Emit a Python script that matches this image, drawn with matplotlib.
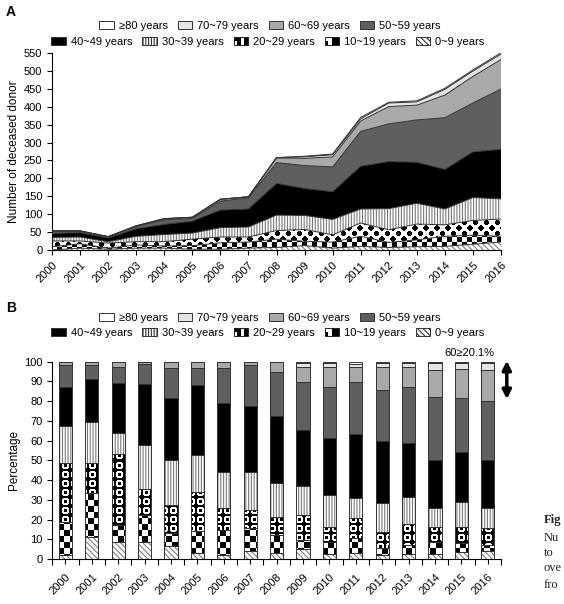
import numpy as np
import matplotlib
matplotlib.use('Agg')
import matplotlib.pyplot as plt
from matplotlib.patches import Patch, Rectangle
from matplotlib.legend_handler import HandlerBase
from matplotlib.path import Path

plt.rcParams['font.family'] = ['Liberation Sans', 'DejaVu Sans']
plt.rcParams['hatch.linewidth'] = 0.8

years = [str(y) for y in range(2000, 2017)]
groups = ['0~9 years', '10~19 years', '20~29 years', '30~39 years', '40~49 years',
          '50~59 years', '60~69 years', '70~79 years', '\u226580 years']

# number of deceased donors by age group (panel A)
cnt_0_9 = [1, 6, 3, 6, 6, 3, 3, 6, 8, 13, 6, 11, 8, 10, 11, 17, 23]
cnt_10_19 = [9, 12, 3, 9, 6, 10, 18, 17, 23, 12, 17, 28, 14, 19, 28, 25, 16]
cnt_20_29 = [16, 8, 14, 9, 12, 18, 16, 14, 24, 33, 20, 37, 35, 44, 32, 41, 48]
cnt_30_39 = [10, 11, 4, 15, 20, 17, 26, 28, 43, 39, 43, 39, 59, 58, 44, 64, 56]
cnt_40_49 = [11, 12, 10, 21, 28, 33, 49, 50, 88, 75, 77, 119, 131, 114, 110, 127, 138]
cnt_50_59 = [6, 4, 3, 7, 13, 8, 25, 31, 58, 64, 69, 97, 105, 118, 144, 136, 168]
cnt_60_69 = [1, 1, 1, 1, 3, 3, 5, 3, 13, 20, 28, 29, 48, 41, 63, 74, 82]
cnt_70_79 = [0, 0, 0, 0, 0, 0, 0, 0, 1, 4, 6, 6, 10, 9, 16, 15, 15]
cnt_80 = [0, 0, 0, 0, 0, 0, 0, 0, 0, 2, 2, 4, 2, 3, 3, 3, 4]

# percentage by age group (panel B)
pct_0_9 = [2.0, 11.3, 8.4, 8.8, 6.8, 3.2, 2.2, 4.2, 3.2, 5.1, 2.4, 2.9, 2.0, 2.5, 2.5, 3.4, 4.1]
pct_10_19 = [16.9, 22.0, 8.8, 13.5, 6.5, 10.8, 12.5, 11.3, 9.0, 4.5, 6.4, 7.6, 3.4, 4.6, 6.3, 4.9, 3.0]
pct_20_29 = [29.6, 15.2, 35.8, 13.0, 14.1, 20.0, 11.0, 9.3, 9.3, 12.7, 7.6, 10.1, 8.5, 10.6, 7.2, 8.1, 8.8]
pct_30_39 = [18.9, 21.1, 10.7, 22.5, 22.8, 18.6, 18.6, 19.1, 16.8, 14.9, 16.0, 10.5, 14.3, 13.9, 9.8, 12.7, 9.8]
pct_40_49 = [19.8, 21.6, 25.7, 30.7, 31.6, 35.5, 34.6, 33.6, 34.2, 28.2, 28.7, 32.2, 31.8, 27.4, 24.3, 25.3, 24.5]
pct_50_59 = [11.1, 7.1, 8.1, 10.5, 15.2, 8.9, 17.7, 20.8, 22.4, 24.5, 25.9, 26.2, 25.6, 28.3, 31.9, 27.0, 30.0]
pct_60_69 = [1.7, 1.7, 2.5, 1.0, 3.0, 3.0, 3.4, 1.7, 4.7, 7.6, 10.5, 7.8, 11.5, 9.8, 14.0, 15.0, 15.6]
pct_70_79 = [0, 0, 0, 0, 0, 0, 0, 0, 0.4, 1.7, 2.0, 1.7, 2.4, 2.1, 3.5, 3.0, 3.4]
pct_80 = [0, 0, 0, 0, 0, 0, 0, 0, 0, 0.8, 0.5, 1.0, 0.5, 0.8, 0.5, 0.6, 0.8]

counts = [cnt_0_9, cnt_10_19, cnt_20_29, cnt_30_39, cnt_40_49, cnt_50_59, cnt_60_69, cnt_70_79, cnt_80]
pcts = [pct_0_9, pct_10_19, pct_20_29, pct_30_39, pct_40_49, pct_50_59, pct_60_69, pct_70_79, pct_80]

styles = [
    dict(face='white', hatch='\\\\\\\\\\\\', hc='#808080'),
    dict(pattern='checker'),
    dict(pattern='rings'),
    dict(face='white', hatch='||||||', hc='#7a7a7a'),
    dict(face='black'),
    dict(face='#5f5f5f'),
    dict(face='#a9a9a9'),
    dict(face='#e4e4e4'),
    dict(face='white'),
]


def checker(h, w, s):
    yy, xx = np.mgrid[0:h, 0:w]
    return ((xx // s + yy // s) % 2).astype(float)


def rings(h, w, s, outer, inner):
    # white rings with a black dot inside, black in between
    yy, xx = np.mgrid[0:h, 0:w]
    dx = (xx % s) - s / 2 + 0.5
    dy = (yy % s) - s / 2 + 0.5
    r = np.hypot(dx, dy)
    return ((r < s * outer) & (r > s * inner)).astype(float)


def pattern_img(ax, kind, s, outer=0.44, inner=0.22):
    bb = ax.get_window_extent()
    h, w = int(round(bb.height)), int(round(bb.width))
    arr = checker(h, w, s) if kind == 'checker' else rings(h, w, s, outer, inner)
    return ax.imshow(arr, cmap='gray', vmin=0, vmax=1, extent=(0, 1, 0, 1),
                     transform=ax.transAxes, aspect='auto', interpolation='nearest', zorder=2)


class PatternHandler(HandlerBase):
    def __init__(self, cells):
        super().__init__()
        self.cells = np.asarray(cells)

    def create_artists(self, legend, orig, xd, yd, w, h, fontsize, trans):
        rows, cols = self.cells.shape
        arts = [Rectangle((xd, yd), w, h, fc='white', ec='none', transform=trans)]
        for r in range(rows):
            for c in range(cols):
                if self.cells[r, c]:
                    arts.append(Rectangle((xd + c * w / cols, yd + h - (r + 1) * h / rows), w / cols, h / rows,
                                          fc='black', ec='none', transform=trans))
        arts.append(Rectangle((xd, yd), w, h, fc='none', ec='#222222', lw=0.7, transform=trans))
        return arts


fig = plt.figure(figsize=(5.64, 6.04), dpi=100)
ax1 = fig.add_axes([52 / 564, 1 - 250.3 / 604, 449 / 564, 197.6 / 604])
ax2 = fig.add_axes([52.3 / 564, 1 - 559 / 604, 448.7 / 564, 197.3 / 604])

x = np.arange(len(years))

# panel A: stacked area
tops = np.cumsum(counts, axis=0)
bots = np.vstack([np.zeros(len(years)), tops[:-1]])
for i, st in enumerate(styles):
    poly = ax1.fill_between(x, bots[i], tops[i], facecolor=st.get('face', 'white'),
                            edgecolor=st.get('hc', 'none'), hatch=st.get('hatch'), linewidth=0, zorder=1)
    if st.get('pattern') == 'checker':
        im = pattern_img(ax1, 'checker', 5)
        im.set_clip_path(poly.get_paths()[0], ax1.transData)
    elif st.get('pattern') == 'rings':
        im = pattern_img(ax1, 'rings', 11, outer=0.5, inner=0.24)
        im.set_clip_path(poly.get_paths()[0], ax1.transData)
    ax1.plot(x, tops[i], color='#333333', lw=0.7, zorder=3)

ax1.set_xlim(0, 16)
ax1.set_ylim(0, 550)
ax1.set_yticks(range(0, 551, 50))
ax1.set_xticks(x)
ax1.set_xticklabels(years, rotation=45, ha='right', rotation_mode='anchor')
ax1.set_ylabel('Number of deceased donor', fontsize=8.5, labelpad=3)

# panel B: 100% stacked bars
ptops = np.cumsum(pcts, axis=0)
pbots = np.vstack([np.zeros(len(years)), ptops[:-1]])
for i, st in enumerate(styles):
    bars = ax2.bar(x, pcts[i], 0.5, bottom=pbots[i], color=st.get('face', 'white'),
                   edgecolor=st.get('hc', 'none'), hatch=st.get('hatch'), linewidth=0, zorder=1)
    if 'pattern' in st:
        path = Path.make_compound_path(*[b.get_patch_transform().transform_path(b.get_path()) for b in bars])
        im = pattern_img(ax2, st['pattern'], 6 if st['pattern'] == 'checker' else 9)
        im.set_clip_path(path, ax2.transData)
    ax2.bar(x, pcts[i], 0.5, bottom=pbots[i], fill=False, edgecolor='#333333', linewidth=0.7, zorder=3)

ax2.set_xlim(-0.5, 16.5)
ax2.set_ylim(0, 100)
ax2.set_yticks(range(0, 101, 10))
ax2.set_xticks(x)
ax2.set_xticklabels(years, rotation=45, ha='right', rotation_mode='anchor')
ax2.set_xticks(np.arange(-0.5, 17, 1), minor=True)
ax2.tick_params(axis='x', which='major', length=0, pad=6)
ax2.tick_params(axis='x', which='minor', length=4, width=0.8, direction='out')
ax2.set_ylabel('Percentage', fontsize=8.5, labelpad=3)

ax2.annotate('', xy=(16.72, 81), xytext=(16.72, 100.5),
             arrowprops=dict(arrowstyle='<|-|>', color='black', lw=2.5, mutation_scale=13,
                             shrinkA=0, shrinkB=0),
             annotation_clip=False)
ax2.text(15.32, 104.6, '60\u226520.1%', fontsize=8, ha='center', va='center', clip_on=False)

for ax in (ax1, ax2):
    for side in ('top', 'right'):
        ax.spines[side].set_visible(False)
    for side in ('left', 'bottom'):
        ax.spines[side].set_linewidth(0.8)
    ax.tick_params(axis='both', labelsize=8, width=0.8, length=3.5, direction='out')

# legends (two centred rows per panel)
handles = []
hmap = {}
for g, st in zip(groups, styles):
    if st.get('pattern') == 'checker':
        h = Patch(facecolor='white')
        hmap[h] = PatternHandler([[0, 0, 1, 1], [1, 0, 1, 1]])
    elif st.get('pattern') == 'rings':
        h = Patch(facecolor='white')
        hmap[h] = PatternHandler([[1, 1, 0, 1], [0, 1, 0, 1]])
    else:
        h = Patch(facecolor=st['face'], edgecolor='#333333', hatch=st.get('hatch'), linewidth=0.7)
    handles.append(h)

row1 = [8, 7, 6, 5]
row2 = [4, 3, 2, 1, 0]
for y1, y2 in ((26, 42), (318, 333)):
    for row, yy, cx in ((row1, y1, 270), (row2, y2, 268)):
        fig.legend([handles[k] for k in row], [groups[k] for k in row], handler_map=hmap,
                   loc='center', bbox_to_anchor=(cx / 564, 1 - yy / 604), ncol=len(row),
                   frameon=False, fontsize=8, handlelength=1.3, handleheight=0.75,
                   handletextpad=0.45, columnspacing=0.9, borderpad=0, borderaxespad=0)

fig.text(11 / 564, 1 - 11.5 / 604, 'A', fontsize=10, fontweight='bold', ha='center', va='center')
fig.text(11 / 564, 1 - 307.5 / 604, 'B', fontsize=10, fontweight='bold', ha='center', va='center')

# clipped caption fragments at the right edge
cap = [('Fig', 520, 'bold'), ('Nu', 538, 'normal'), ('to', 553, 'normal'),
       ('ove', 568, 'normal'), ('fro', 585, 'normal')]
for t, yy, wt in cap:
    fig.text(544 / 564, 1 - yy / 604, t, fontsize=9, fontweight=wt, ha='left', va='center',
             family=['Liberation Serif', 'DejaVu Serif'], color='#222222')

fig.savefig('out.png', dpi=100)
